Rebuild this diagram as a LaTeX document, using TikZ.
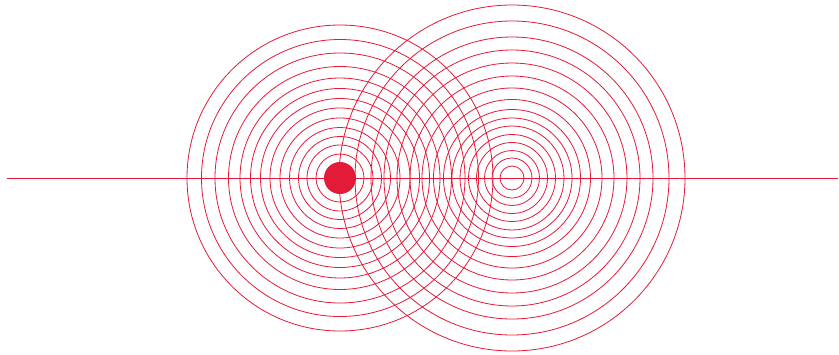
\documentclass[tikz,border=0pt]{standalone}
\definecolor{wavered}{HTML}{E31A38}
\begin{document}
\begin{tikzpicture}[x=1pt,y=-1pt,
  wave/.style={draw=wavered,line width=0.8pt},
  axisline/.style={draw=wavered,line width=0.9pt}]
\useasboundingbox (0,0) rectangle (839,354);
\coordinate (src) at (340,178);
\coordinate (rcv) at (512,178);
\coordinate (lend) at (7,178);
\coordinate (rend) at (838,178);
\draw[axisline] (lend) -- (rend);
\foreach \r in {24,33,41.5,50.5,60,70,79.5,89.5,100,111.5,125,138.5,153}
  \draw[wave] (src) circle[radius=\r];
\foreach \r in {12,20,27.5,35.5,43.5,52,60,68.5,78.5,90,102,115,128,141,157,173}
  \draw[wave] (rcv) circle[radius=\r];
\fill[wavered] (src) circle[radius=16];
\end{tikzpicture}
\end{document}
